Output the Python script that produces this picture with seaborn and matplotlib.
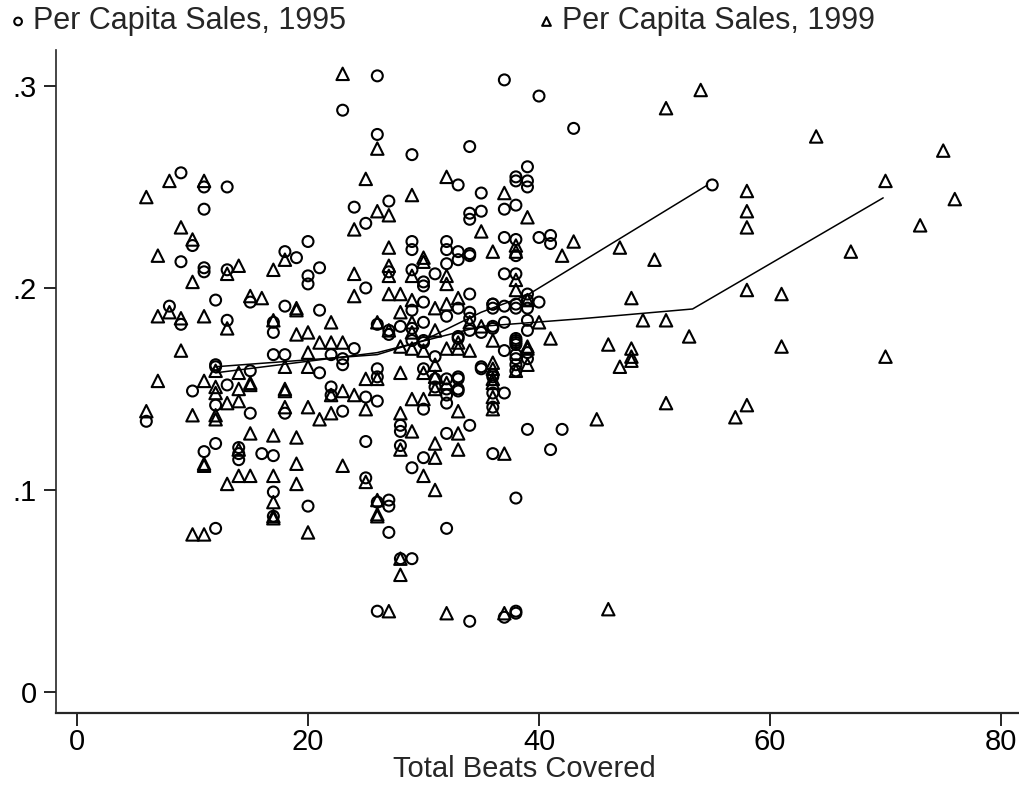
import matplotlib
matplotlib.use("Agg")
import matplotlib.pyplot as plt
import seaborn as sns
from matplotlib import font_manager
from matplotlib.ticker import FixedLocator, FixedFormatter

# ---------------------------------------------------------------------------
# Data: per capita sales vs. total beats covered
# ---------------------------------------------------------------------------
x95 = [6, 8, 9, 9, 9, 10, 10, 11, 11, 11, 11, 11,
       12, 12, 12, 12, 12, 12, 13, 13, 13, 13, 14, 14, 14, 15, 15, 15, 16,
       17, 17, 17, 17, 17, 17, 18, 18, 18, 18, 19, 20, 20, 20, 20,
       21, 21, 21, 22, 22, 22, 23, 23, 23, 23, 24, 24,
       25, 25, 25, 25, 25, 26, 26, 26, 26, 26, 26, 26, 26,
       27, 27, 27, 27, 27, 27, 27, 28, 28, 28, 28, 28,
       29, 29, 29, 29, 29, 29, 29, 29, 29,
       30, 30, 30, 30, 30, 30, 30, 30, 30, 31, 31, 31, 31,
       32, 32, 32, 32, 32, 32, 32, 32, 32, 32,
       33, 33, 33, 33, 33, 33, 33, 33, 33, 33,
       34, 34, 34, 34, 34, 34, 34, 34, 34, 34, 34,
       35, 35, 35, 35, 35, 36, 36, 36, 36, 36, 36, 36, 36, 36, 36,
       37, 37, 37, 37, 37, 37, 37, 37, 37,
       38, 38, 38, 38, 38, 38, 38, 38, 38, 38, 38, 38, 38, 38, 38, 38, 38, 38, 38,
       39, 39, 39, 39, 39, 39, 39, 39, 39, 39, 39,
       40, 40, 40, 41, 41, 41, 42, 43, 55]
y95 = [.134, .191, .257, .213, .182, .221, .149, .250, .239, .210, .208, .119,
       .194, .162, .161, .142, .123, .081, .250, .209, .184, .152, .121, .118, .115, .193, .159, .138, .118,
       .183, .178, .167, .117, .099, .087, .218, .191, .167, .138, .215, .223, .206, .202, .092,
       .210, .189, .158, .167, .151, .147, .288, .165, .162, .139, .240, .170,
       .232, .200, .146, .124, .106, .305, .276, .182, .160, .156, .144, .094, .040,
       .243, .208, .179, .177, .095, .092, .079, .181, .132, .129, .122, .066,
       .266, .223, .219, .209, .189, .180, .174, .111, .066,
       .203, .201, .193, .183, .174, .173, .160, .140, .116, .207, .166, .155, .151,
       .223, .219, .212, .186, .155, .150, .147, .143, .128, .081,
       .251, .218, .214, .190, .175, .176, .156, .155, .150, .149,
       .270, .237, .234, .217, .216, .197, .188, .185, .179, .132, .035,
       .247, .238, .178, .161, .160, .192, .190, .192, .181, .180, .157, .156, .141, .118, .148,
       .303, .239, .225, .207, .191, .183, .169, .148, .037,
       .255, .253, .241, .224, .216, .207, .192, .190, .175, .173, .174, .172, .167, .165, .162, .159, .096, .040, .039,
       .260, .253, .250, .197, .194, .190, .184, .179, .168, .165, .130,
       .295, .225, .193, .226, .222, .120, .130, .279, .251]

x99 = [6, 6, 7, 7, 7, 8, 8, 9, 9, 9, 10, 10, 10, 10,
       11, 11, 11, 11, 11, 11, 12, 12, 12, 12, 12, 13, 13, 13, 13,
       14, 14, 14, 14, 14, 14, 15, 15, 15, 15, 15, 16,
       17, 17, 17, 17, 17, 17, 17, 18, 18, 18, 18, 18,
       19, 19, 19, 19, 19, 19, 20, 20, 20, 20, 20, 21, 21,
       22, 22, 22, 22, 23, 23, 23, 23, 24, 24, 24, 24, 25, 25, 25, 25,
       26, 26, 26, 26, 26, 26, 26, 27, 27, 27, 27, 27, 27, 27,
       28, 28, 28, 28, 28, 28, 28, 28, 29, 29, 29, 29, 29, 29, 29, 29,
       30, 30, 30, 30, 30, 30, 31, 31, 31, 31, 31, 31, 31, 31,
       32, 32, 32, 32, 32, 32, 32, 33, 33, 33, 33, 33, 33, 34, 34, 35, 35,
       36, 36, 36, 36, 36, 36, 36, 36, 37, 37, 37, 38, 38, 38, 38, 38,
       39, 39, 39, 39, 39, 40, 41, 42, 43, 45, 46, 46, 47, 47,
       48, 48, 48, 48, 49, 50, 51, 51, 51, 53, 54, 57,
       58, 58, 58, 58, 58, 61, 61, 64, 67, 70, 70, 73, 75, 76]
y99 = [.245, .139, .216, .186, .154, .253, .188, .230, .185, .169, .224, .203, .137, .078,
       .253, .186, .154, .113, .112, .078, .159, .151, .148, .137, .135, .207, .180, .143, .103,
       .211, .158, .150, .144, .120, .107, .196, .153, .152, .128, .107, .195,
       .209, .184, .127, .107, .094, .087, .086, .214, .161, .150, .149, .141,
       .190, .189, .177, .126, .113, .103, .178, .168, .161, .141, .079, .173, .135,
       .183, .173, .147, .138, .306, .173, .149, .112, .229, .207, .196, .147, .254, .155, .140, .104,
       .269, .238, .183, .155, .095, .088, .087, .236, .220, .211, .206, .197, .179, .040,
       .197, .188, .171, .158, .138, .120, .066, .058, .246, .206, .194, .183, .178, .170, .145, .129,
       .215, .213, .169, .158, .145, .107, .190, .179, .162, .156, .150, .123, .116, .100,
       .255, .206, .202, .192, .170, .153, .039, .195, .173, .170, .139, .128, .120, .183, .169, .228, .181,
       .218, .174, .163, .160, .155, .153, .146, .140, .247, .118, .039, .221, .218, .204, .199, .159,
       .235, .194, .171, .170, .162, .183, .175, .216, .223, .135, .172, .041, .220, .161,
       .195, .170, .166, .164, .184, .214, .289, .184, .143, .176, .298, .136,
       .248, .238, .230, .199, .142, .197, .171, .275, .218, .253, .166, .231, .268, .244]

# connecting lines (median traces) for each year
line95_x = [12, 26, 30, 35, 39, 54.6]
line95_y = [.161, .167, .174, .188, .1965, .251]
line99_x = [12, 26, 35, 43.5, 53.3, 69.8]
line99_y = [.158, .168, .181, .1847, .1896, .2446]

labels = ["Per Capita Sales, 1995", "Per Capita Sales, 1999"]
xticks = [0, 20, 40, 60, 80]
yticks = [0, .1, .2, .3]
ytick_labels = ["0", ".1", ".2", ".3"]

# ---------------------------------------------------------------------------
sns.set_style("white")
installed = {f.name for f in font_manager.fontManager.ttflist}
fams = [f for f in ["Liberation Sans Narrow", "Liberation Sans", "DejaVu Sans"] if f in installed]
plt.rcParams["font.family"] = fams

fig = plt.figure(figsize=(10.19, 7.86), dpi=100)
W, H = 1019, 786
ax = fig.add_axes([56 / W, 1 - 713 / H, 1 - 56 / W, (713 - 50) / H])

sns.scatterplot(x=x95, y=y95, marker="o", s=62, color="black", facecolor="none",
                edgecolor="black", linewidth=1.5, ax=ax, label=labels[0])
sns.scatterplot(x=x99, y=y99, marker="^", s=80, color="black", facecolor="none",
                edgecolor="black", linewidth=1.5, ax=ax, label=labels[1])
sns.lineplot(x=line95_x, y=line95_y, color="black", lw=1.1, sort=False, estimator=None, ax=ax)
sns.lineplot(x=line99_x, y=line99_y, color="black", lw=1.1, sort=False, estimator=None, ax=ax)

ax.set_xlim(-1.82, 81.56)
ax.set_ylim(-0.0104, 0.3178)
for side in ["top", "right"]:
    ax.spines[side].set_visible(False)
ax.spines["left"].set_linewidth(1.2)
ax.spines["bottom"].set_linewidth(1.6)

ax.xaxis.set_major_locator(FixedLocator(xticks))
ax.yaxis.set_major_locator(FixedLocator(yticks))
ax.yaxis.set_major_formatter(FixedFormatter(ytick_labels))
ax.tick_params(axis="both", direction="out", length=9, width=1.2, labelsize=21,
               colors="black", left=True, bottom=True)
ax.tick_params(axis="y", pad=5)
ax.tick_params(axis="x", pad=2)

ax.set_xlabel("Total Beats Covered", fontsize=21)
ax.xaxis.set_label_coords(0.486, -0.064)
ax.set_ylabel("")

handles, labs = ax.get_legend_handles_labels()
ax.legend(handles, labs, ncol=2, frameon=False, fontsize=22, markerscale=0.7,
          loc="center left", bbox_to_anchor=(-0.06, 1.043), handlelength=0.5,
          handletextpad=0.25, columnspacing=6.3, borderaxespad=0)

fig.savefig("out.png", dpi=100)
